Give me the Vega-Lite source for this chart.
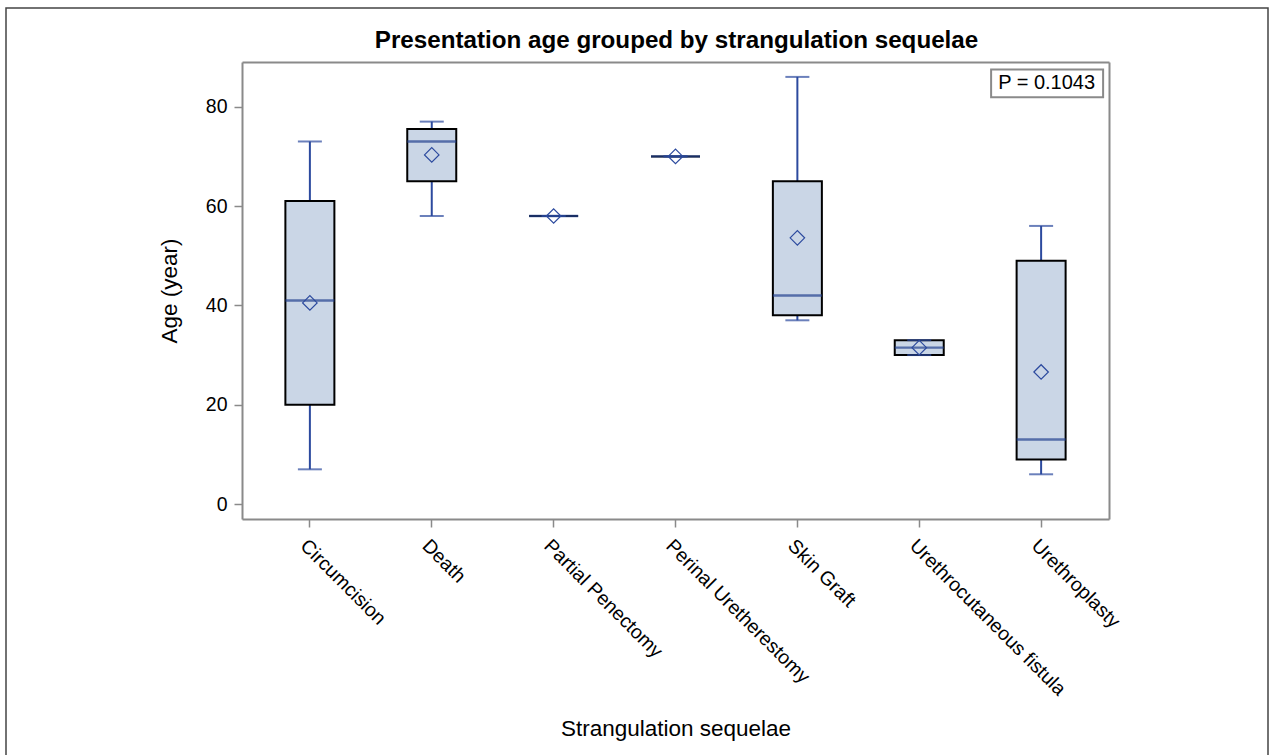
{
  "$schema": "https://vega.github.io/schema/vega-lite/v6.json",
  "autosize": "none",
  "width": 1262,
  "height": 760,
  "padding": {"left": 6, "top": 8, "right": 5, "bottom": 0},
  "background": "white",
  "title": {
    "text": "Presentation age grouped by strangulation sequelae",
    "font": "Liberation Sans",
    "fontSize": 24.2,
    "fontWeight": "bold",
    "color": "black",
    "anchor": "middle",
    "frame": "group",
    "dx": 39.5,
    "offset": -45
  },
  "config": {
    "view": {"stroke": "#444444", "strokeWidth": 1.5},
    "font": "Liberation Sans",
    "axis": {
      "domainColor": "#8a8a8a",
      "domainWidth": 2,
      "tickColor": "#8a8a8a",
      "tickWidth": 1.5,
      "tickSize": 8,
      "labelFont": "Liberation Sans",
      "labelFontSize": 19.5,
      "labelColor": "black",
      "labelLimit": 0,
      "titleFont": "Liberation Sans",
      "titleFontSize": 22.5,
      "titleFontWeight": "normal",
      "titleColor": "black",
      "grid": false
    }
  },
  "datasets": {
    "stats": [
      {"sequelae": "Circumcision", "min": 7, "q1": 20, "median": 41, "q3": 61, "max": 73, "mean": 40.5},
      {"sequelae": "Death", "min": 58, "q1": 65, "median": 73, "q3": 75.5, "max": 77, "mean": 70.3},
      {"sequelae": "Partial Penectomy", "min": 58, "q1": 58, "median": 58, "q3": 58, "max": 58, "mean": 58},
      {"sequelae": "Perinal Uretherestomy", "min": 70, "q1": 70, "median": 70, "q3": 70, "max": 70, "mean": 70},
      {"sequelae": "Skin Graft", "min": 37, "q1": 38, "median": 42, "q3": 65, "max": 86, "mean": 53.6},
      {"sequelae": "Urethrocutaneous fistula", "min": 30, "q1": 30, "median": 31.5, "q3": 33, "max": 33, "mean": 31.5},
      {"sequelae": "Urethroplasty", "min": 6, "q1": 9, "median": 13, "q3": 49, "max": 56, "mean": 26.6}
    ],
    "test": [
      {"label": "P = 0.1043"}
    ]
  },
  "resolve": {"axis": {"x": "independent", "y": "independent"}},
  "layer": [
    {
      "data": {"name": "stats"},
      "mark": {"type": "rule", "color": "#2c4a9e", "strokeWidth": 2},
      "encoding": {
        "x": {
          "field": "sequelae",
          "type": "nominal",
          "sort": null,
          "scale": {"range": [236, 1103], "paddingInner": 0, "paddingOuter": 0.057},
          "axis": {
            "orient": "bottom",
            "offset": -249,
            "labelAngle": 45,
            "labelPadding": 9,
            "title": "Strangulation sequelae",
            "titlePadding": 19
          }
        },
        "y": {
          "field": "min",
          "type": "quantitative",
          "scale": {"domain": [-3, 89], "range": [511, 54], "nice": false, "zero": false},
          "axis": {
            "orient": "left",
            "offset": -236,
            "values": [0, 20, 40, 60, 80],
            "labelPadding": 7,
            "title": "Age (year)",
            "titlePadding": 24
          }
        },
        "y2": {"field": "max"}
      }
    },
    {
      "data": {"name": "stats"},
      "mark": {"type": "bar", "width": 49, "fill": "#cad6e6", "stroke": "black", "strokeWidth": 2},
      "encoding": {
        "x": {
          "field": "sequelae",
          "type": "nominal",
          "sort": null,
          "axis": {"orient": "top", "offset": -54, "labels": false, "ticks": false, "title": null}
        },
        "y": {
          "field": "q1",
          "type": "quantitative",
          "axis": {"orient": "right", "offset": -159, "labels": false, "ticks": false, "title": null}
        },
        "y2": {"field": "q3"}
      }
    },
    {
      "data": {"name": "stats"},
      "mark": {"type": "tick", "color": "#2c4a9e", "size": 24, "thickness": 2},
      "encoding": {
        "x": {"field": "sequelae", "type": "nominal", "sort": null, "axis": null},
        "y": {"field": "min", "type": "quantitative", "axis": null}
      }
    },
    {
      "data": {"name": "stats"},
      "mark": {"type": "tick", "color": "#2c4a9e", "size": 24, "thickness": 2},
      "encoding": {
        "x": {"field": "sequelae", "type": "nominal", "sort": null, "axis": null},
        "y": {"field": "max", "type": "quantitative", "axis": null}
      }
    },
    {
      "data": {"name": "stats"},
      "mark": {"type": "tick", "color": "#24418f", "size": 49, "thickness": 2.4},
      "encoding": {
        "x": {"field": "sequelae", "type": "nominal", "sort": null, "axis": null},
        "y": {"field": "median", "type": "quantitative", "axis": null}
      }
    },
    {
      "data": {"name": "stats"},
      "mark": {"type": "point", "shape": "diamond", "filled": false, "size": 210, "color": "#2c4a9e", "strokeWidth": 1.2, "opacity": 1},
      "encoding": {
        "x": {"field": "sequelae", "type": "nominal", "sort": null, "axis": null},
        "y": {"field": "mean", "type": "quantitative", "axis": null}
      }
    },
    {
      "data": {"name": "test"},
      "mark": {"type": "bar", "width": 112, "xOffset": 6, "fill": "white", "stroke": "#8a8a8a", "strokeWidth": 2},
      "encoding": {
        "x": {"datum": "Urethroplasty", "type": "nominal", "axis": null},
        "y": {"datum": 87.5, "type": "quantitative", "axis": null},
        "y2": {"datum": 81.9}
      }
    },
    {
      "data": {"name": "test"},
      "mark": {"type": "text", "xOffset": 5.5, "font": "Liberation Sans", "fontSize": 20, "color": "black", "align": "center", "baseline": "middle"},
      "encoding": {
        "x": {"datum": "Urethroplasty", "type": "nominal", "axis": null},
        "y": {"datum": 84.7, "type": "quantitative", "axis": null},
        "text": {"field": "label"}
      }
    }
  ]
}
